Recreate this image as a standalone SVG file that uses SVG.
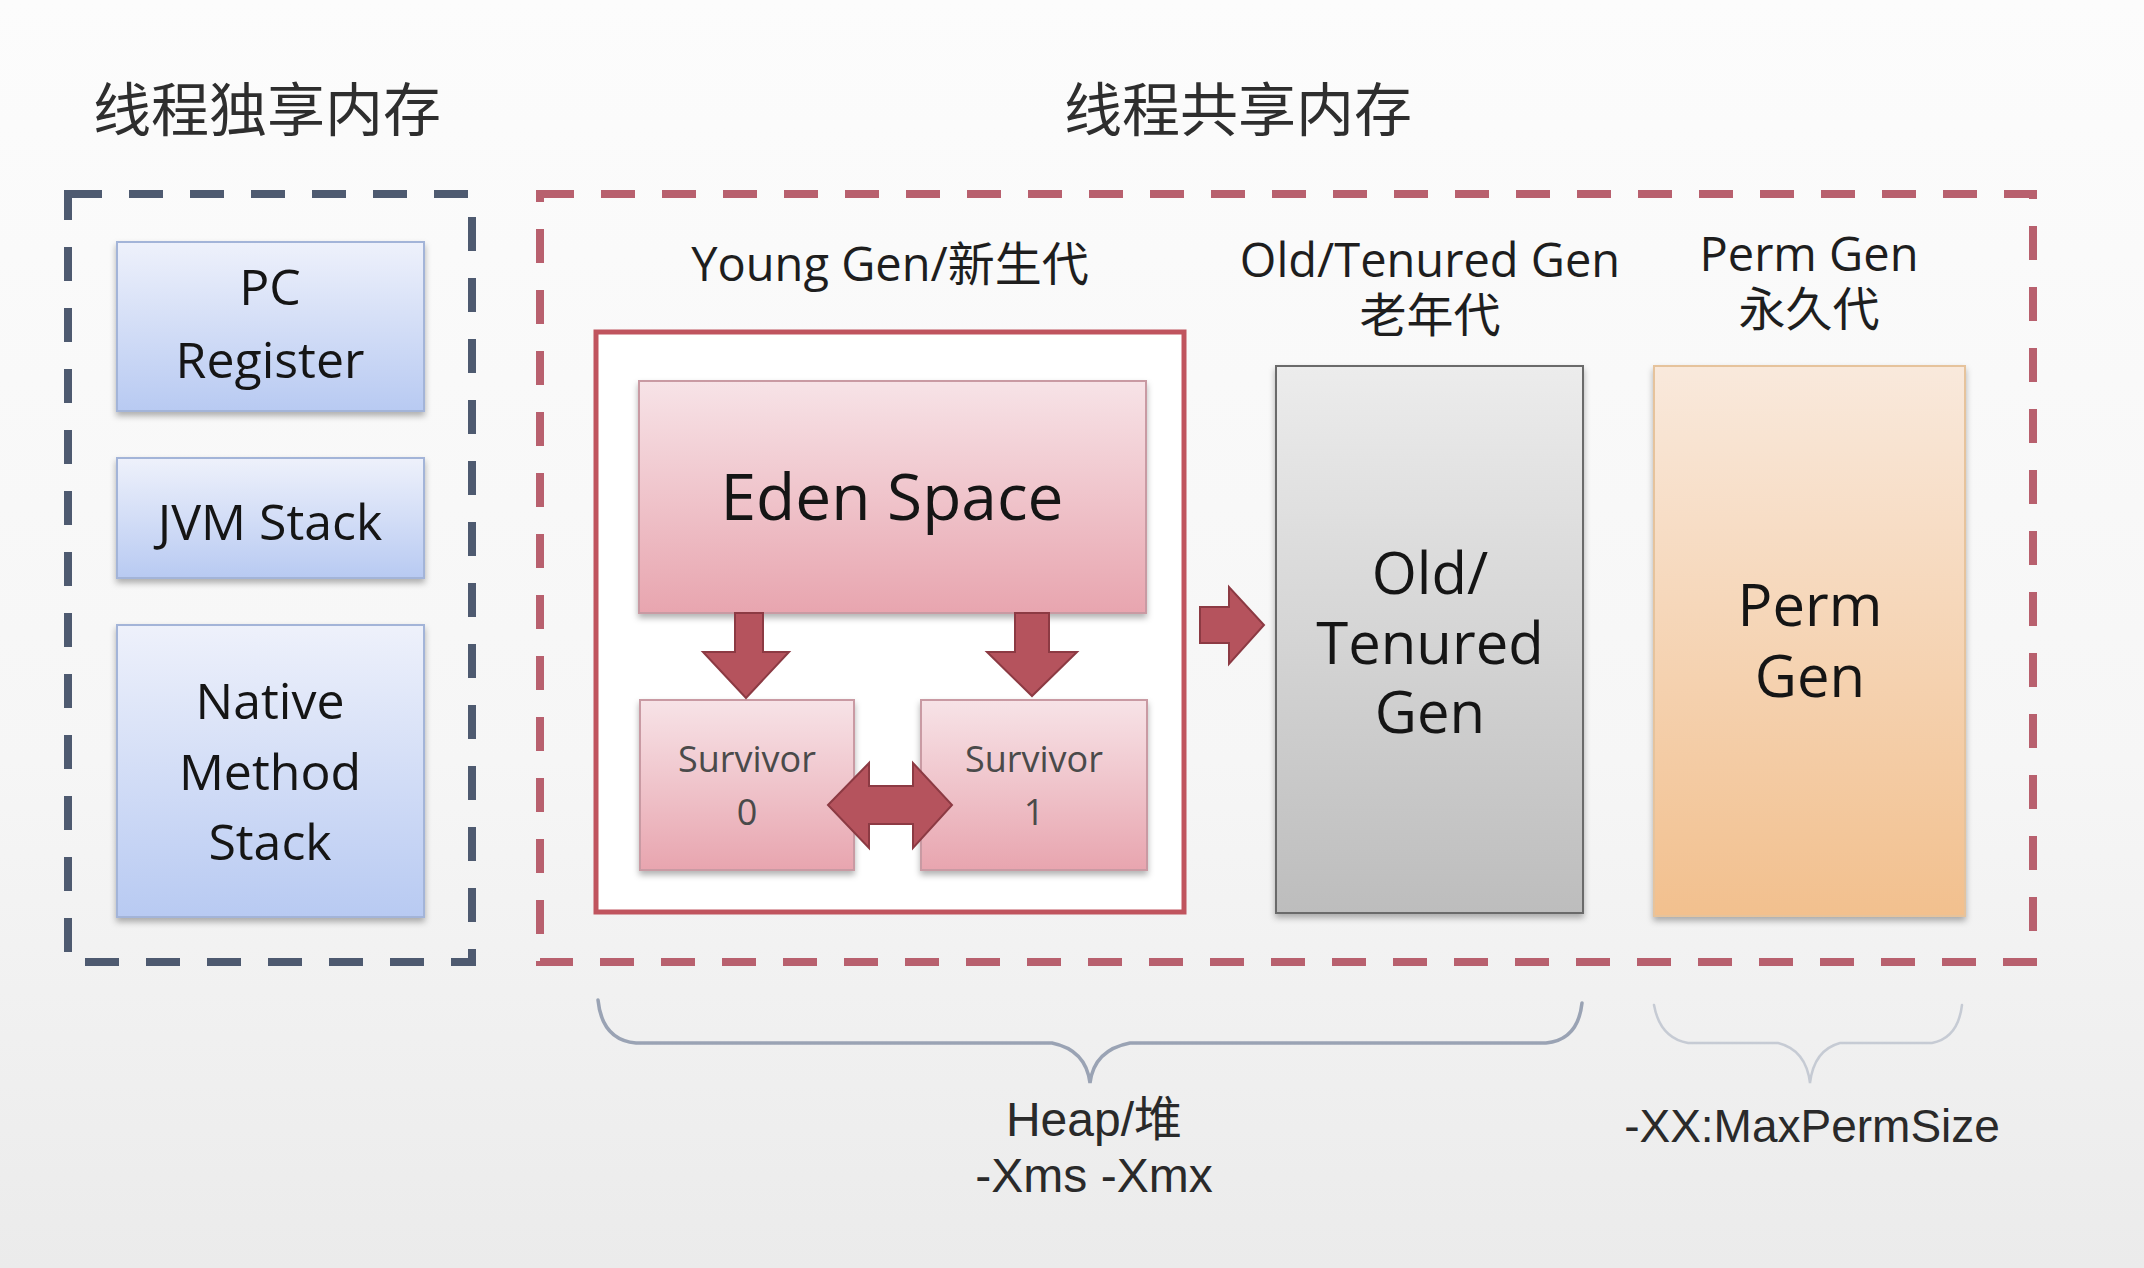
<svg xmlns="http://www.w3.org/2000/svg" width="2144" height="1268" viewBox="0 0 2144 1268">
  <defs>
    <linearGradient id="bg" x1="0" y1="0" x2="0" y2="1">
      <stop offset="0" stop-color="#fcfcfc"/>
      <stop offset="0.6" stop-color="#f6f6f6"/>
      <stop offset="1" stop-color="#ebebeb"/>
    </linearGradient>
    <linearGradient id="gBlue" x1="0" y1="0" x2="0" y2="1">
      <stop offset="0" stop-color="#eef1fb"/>
      <stop offset="1" stop-color="#b8caf2"/>
    </linearGradient>
    <linearGradient id="gPink" x1="0" y1="0" x2="0" y2="1">
      <stop offset="0" stop-color="#f7e3e7"/>
      <stop offset="1" stop-color="#e8a5af"/>
    </linearGradient>
    <linearGradient id="gGray" x1="0" y1="0" x2="0" y2="1">
      <stop offset="0" stop-color="#ececec"/>
      <stop offset="1" stop-color="#bdbdbd"/>
    </linearGradient>
    <linearGradient id="gOrange" x1="0" y1="0" x2="0" y2="1">
      <stop offset="0" stop-color="#f9e9dc"/>
      <stop offset="1" stop-color="#f2c08e"/>
    </linearGradient>
    <filter id="shadow" x="-10%" y="-10%" width="120%" height="125%">
      <feDropShadow dx="0" dy="4" stdDeviation="3" flood-color="#000" flood-opacity="0.3"/>
    </filter>
    <style>
      .title { font-family: "Noto Sans CJK SC", "Noto Sans", sans-serif; font-size: 58px; fill: #2e2e2e; }
      .label { font-family: "Open Sans", "Noto Sans CJK SC", sans-serif; font-size: 47px; fill: #1e1e1e; text-anchor: middle; }
      .boxtxt { font-family: "Open Sans", sans-serif; font-size: 50px; fill: #151515; text-anchor: middle; }
      .big { font-family: "Open Sans", sans-serif; font-size: 58px; fill: #151515; text-anchor: middle; }
      .surv { font-family: "Open Sans", sans-serif; font-size: 36px; fill: #4a4a4a; text-anchor: middle; }
      .note { font-family: "Liberation Sans", "Noto Sans CJK SC", sans-serif; fill: #2a2a2a; text-anchor: middle; }
      .dashL { fill: none; stroke: #4e5a70; stroke-width: 8; stroke-dasharray: 34 27; }
      .dashR { fill: none; stroke: #b8606e; stroke-width: 8; stroke-dasharray: 34 27; }
      .blue { fill: url(#gBlue); stroke: #a3b4d8; stroke-width: 2; filter: url(#shadow); }
      .pink { fill: url(#gPink); stroke: #c99aa3; stroke-width: 2; filter: url(#shadow); }
      .arrow { fill: #b5535d; stroke: #8c3a43; stroke-width: 2; stroke-linejoin: miter; }
      .brace { fill: none; stroke: #9aa3b4; stroke-width: 3.5; stroke-linecap: round; }
    </style>
  </defs>

  <rect x="0" y="0" width="2144" height="1268" fill="url(#bg)"/>

  <g id="title-private">
    <text class="title" x="93" y="131">线程独享内存</text>
  </g>
  <g id="title-shared">
    <text class="title" x="1064" y="131">线程共享内存</text>
  </g>

  <g id="private-area">
    <rect class="dashL" x="68" y="194" width="404" height="768"/>
  </g>
  <g id="shared-area">
    <rect class="dashR" x="540" y="194" width="1493" height="768"/>
  </g>

  <g id="pc-register">
    <rect class="blue" x="117" y="242" width="307" height="169"/>
    <text class="boxtxt"><tspan x="270" y="305">PC</tspan><tspan x="270" y="378">Register</tspan></text>
  </g>
  <g id="jvm-stack">
    <rect class="blue" x="117" y="458" width="307" height="120"/>
    <text class="boxtxt" x="270" y="540">JVM Stack</text>
  </g>
  <g id="native-method-stack">
    <rect class="blue" x="117" y="625" width="307" height="292"/>
    <text class="boxtxt"><tspan x="270" y="719">Native</tspan><tspan x="270" y="790">Method</tspan><tspan x="270" y="860">Stack</tspan></text>
  </g>

  <g id="young-gen">
    <text class="label" x="890" y="281">Young Gen/新生代</text>
    <rect x="596" y="332" width="588" height="580" fill="#ffffff" stroke="#c0545e" stroke-width="5"/>
  </g>
  <g id="eden-space">
    <rect class="pink" x="639" y="381" width="507" height="232"/>
    <text x="892" y="520" class="big" style="font-size:64px">Eden Space</text>
  </g>
  <g id="survivor-0">
    <rect class="pink" x="640" y="700" width="214" height="170"/>
    <text class="surv"><tspan x="747" y="772">Survivor</tspan><tspan x="747" y="825">0</tspan></text>
  </g>
  <g id="survivor-1">
    <rect class="pink" x="921" y="700" width="226" height="170"/>
    <text class="surv"><tspan x="1034" y="772">Survivor</tspan><tspan x="1034" y="825">1</tspan></text>
  </g>

  <g id="old-gen">
    <text class="label"><tspan x="1430" y="277">Old/Tenured Gen</tspan><tspan x="1430" y="332">老年代</tspan></text>
    <rect x="1276" y="366" width="307" height="547" fill="url(#gGray)" stroke="#6a6a6a" stroke-width="2" filter="url(#shadow)"/>
    <text class="big"><tspan x="1430" y="594">Old/</tspan><tspan x="1430" y="664">Tenured</tspan><tspan x="1430" y="733">Gen</tspan></text>
  </g>

  <g id="perm-gen">
    <text class="label"><tspan x="1809" y="271">Perm Gen</tspan><tspan x="1809" y="326">永久代</tspan></text>
    <rect x="1654" y="366" width="311" height="550" fill="url(#gOrange)" stroke="#e6c39c" stroke-width="2" filter="url(#shadow)"/>
    <text class="big"><tspan x="1810" y="626">Perm</tspan><tspan x="1810" y="697">Gen</tspan></text>
  </g>

  <g id="connectors">
    <polygon class="arrow" points="735,613 763,613 763,652 789,652 746,698 703,652 735,652"/>
    <polygon class="arrow" points="1015,613 1049,613 1049,652 1077,652 1032,696 987,652 1015,652"/>
    <polygon class="arrow" points="828,805 869,763 869,786 913,786 913,763 952,805 913,848 913,824 869,824 869,848"/>
    <polygon class="arrow" points="1200,607 1229,607 1229,587 1264,625 1229,664 1229,643 1200,643"/>
  </g>

  <g id="heap-brace">
    <path class="brace" d="M598,1000 Q602,1040 636,1043 L1052,1043 Q1086,1050 1090,1083 Q1094,1050 1130,1043 L1546,1043 Q1578,1040 1582,1003"/>
    <text class="note" style="font-size:48px"><tspan x="1094" y="1136">Heap/堆</tspan><tspan x="1094" y="1192">-Xms -Xmx</tspan></text>
  </g>

  <g id="perm-brace">
    <path class="brace" style="stroke:#b4bbc8;stroke-width:2.5;opacity:0.7" d="M1654,1005 Q1660,1038 1688,1043 L1778,1043 Q1806,1050 1810,1083 Q1814,1050 1840,1043 L1932,1043 Q1958,1038 1962,1005"/>
    <text class="note" x="1812" y="1142" style="font-size:46px">-XX:MaxPermSize</text>
  </g>
</svg>
